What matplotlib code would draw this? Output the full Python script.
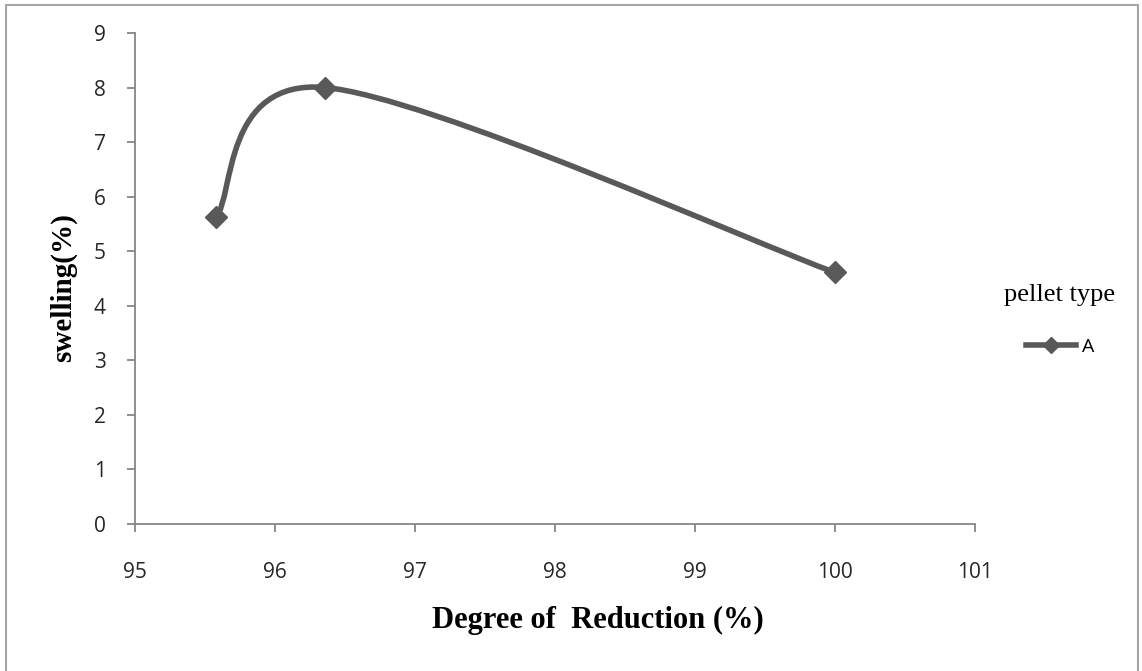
import matplotlib
matplotlib.use("Agg")
import matplotlib.pyplot as plt
from matplotlib.path import Path
from matplotlib.patches import PathPatch, Rectangle
from matplotlib.lines import Line2D
import numpy as np

# Data
reduction = [95.58, 96.36, 100.0]
swelling = [5.63, 8.0, 4.61]
series_name = "A"
legend_title = "pellet type"
x_ticks = [95, 96, 97, 98, 99, 100, 101]
y_ticks = [0, 1, 2, 3, 4, 5, 6, 7, 8, 9]

color = "#595959"

fig = plt.figure(figsize=(11.42, 6.71), dpi=100)
ax = fig.add_axes([135/1142, 1 - 524/671, (975-135)/1142, (524-33)/671])

ax.set_xlim(95, 101)
ax.set_ylim(0, 9)

# Smooth (Excel-like) Bezier curve through data points
pts = np.column_stack([reduction, swelling])
n = len(pts)
verts = [tuple(pts[0])]
codes = [Path.MOVETO]
for i in range(n - 1):
    p0 = pts[i - 1] if i > 0 else pts[i]
    p1 = pts[i]
    p2 = pts[i + 1]
    p3 = pts[i + 2] if i + 2 < n else pts[i + 1]
    c1 = p1 + (p2 - p0) / 6.0
    c2 = p2 - (p3 - p1) / 6.0
    verts += [tuple(c1), tuple(c2), tuple(p2)]
    codes += [Path.CURVE4] * 3
patch = PathPatch(Path(verts, codes), facecolor="none", edgecolor=color,
                  lw=4.0, capstyle="round", joinstyle="round", zorder=3)
ax.add_patch(patch)
ax.plot(reduction, swelling, linestyle="none", marker="D", markersize=11,
        color=color, zorder=4)

ax.set_xticks(x_ticks)
ax.set_yticks(y_ticks)
for s in ["top", "right"]:
    ax.spines[s].set_visible(False)
for s in ["left", "bottom"]:
    ax.spines[s].set_color("#868686")
    ax.spines[s].set_linewidth(1.3)
ax.tick_params(axis="both", direction="out", length=6, width=1.3, color="#868686",
               labelsize=15, labelcolor="#262626")
ax.tick_params(axis="x", pad=21)
ax.tick_params(axis="y", pad=15)
for lab in ax.get_xticklabels() + ax.get_yticklabels():
    lab.set_family("Open Sans")

ax.set_xlabel("Degree of  Reduction (%)", family="Liberation Serif", fontweight="bold",
              fontsize=22, labelpad=17)
ax.xaxis.label.set_x(0.551)
ax.set_ylabel("swelling(%)", family="Liberation Serif", fontweight="bold",
              fontsize=21, labelpad=12)
ax.yaxis.label.set_y(0.482)

handle = Line2D([], [], color=color, lw=4.0, marker="D", markersize=8)
leg = fig.legend([handle], [series_name], title=legend_title, loc="center",
                 bbox_to_anchor=(1060/1142, 1 - 320/671), frameon=False,
                 prop={"family": "Open Sans", "size": 14},
                 title_fontproperties={"family": "Liberation Serif", "size": 19},
                 handlelength=2.6, handletextpad=0.3, borderpad=0.2,
                 labelspacing=1.6)
leg._legend_box.align = "center"

fig.add_artist(Rectangle((6/1142, -10/671), 1132/1142, 676/671, transform=fig.transFigure,
                         fill=False, edgecolor="#a6a6a6", lw=1.5))

fig.savefig("out.png", dpi=100)
